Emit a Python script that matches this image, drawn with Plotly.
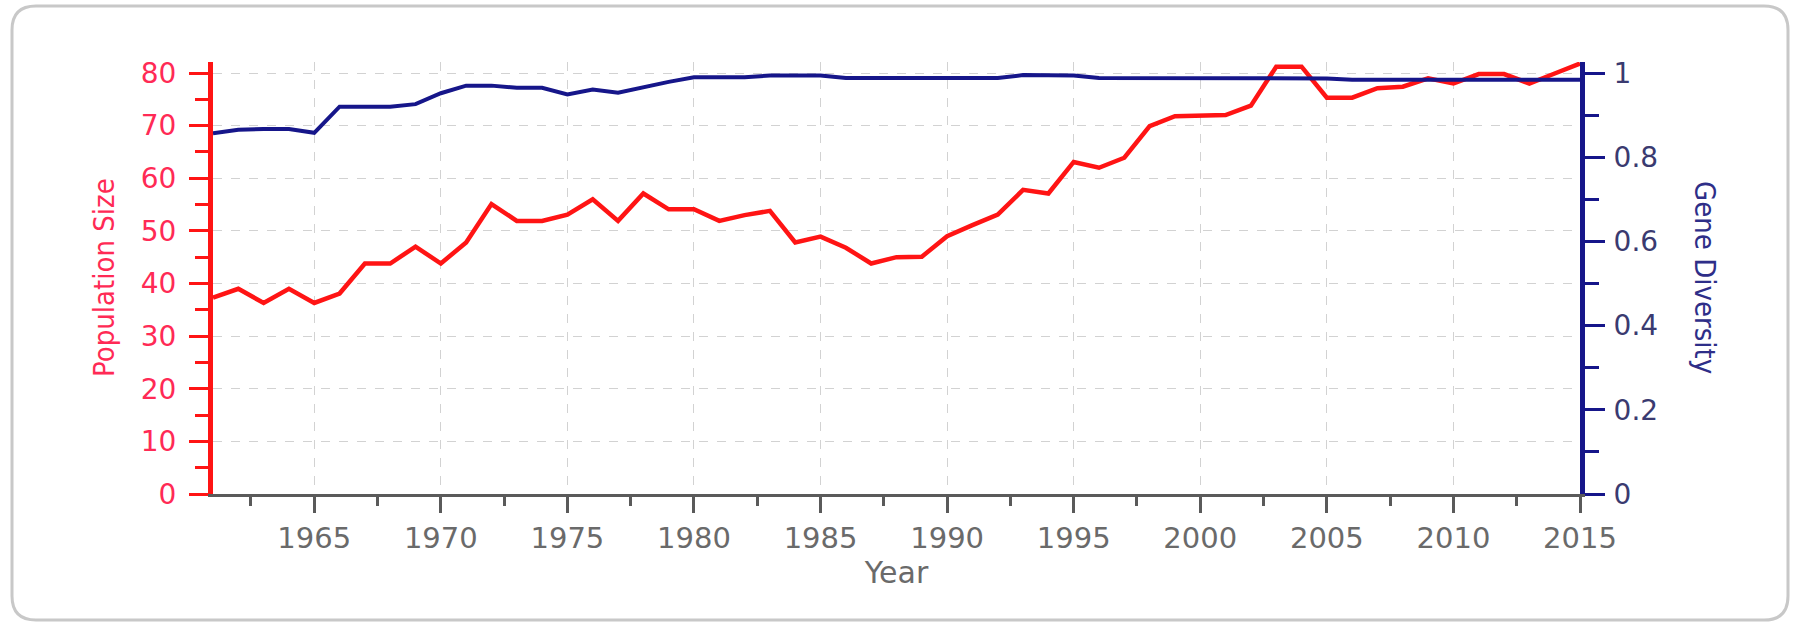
import plotly.graph_objects as go

years = list(range(1961, 2016))

population_size = [
    37.3, 39.0, 36.3, 39.0, 36.3, 38.1, 43.8, 43.8, 47.0, 43.8,
    47.8, 55.1, 51.9, 51.9, 53.1, 56.0, 51.9, 57.1, 54.1, 54.1,
    51.9, 53.0, 53.8, 47.8, 48.9, 46.8, 43.8, 45.0, 45.1, 49.0,
    51.1, 53.1, 57.8, 57.1, 63.1, 62.0, 63.9, 69.9, 71.8, 71.8,
    72.0, 73.8, 81.2, 81.2, 75.3, 75.3, 77.1, 77.4, 79.0, 78.0,
    79.8, 79.8, 78.0, 79.9, 81.8,
]

gene_diversity = [
    0.857, 0.865, 0.867, 0.867, 0.858, 0.920, 0.920, 0.920, 0.926, 0.952,
    0.970, 0.970, 0.965, 0.965, 0.949, 0.961, 0.953, 0.967, 0.979, 0.990,
    0.990, 0.990, 0.994, 0.995, 0.994, 0.988, 0.988, 0.988, 0.988, 0.988,
    0.988, 0.988, 0.995, 0.995, 0.994, 0.988, 0.988, 0.988, 0.988, 0.988,
    0.988, 0.988, 0.988, 0.988, 0.987, 0.984, 0.984, 0.984, 0.984, 0.984,
    0.984, 0.984, 0.984, 0.984, 0.984,
]

x_title = "Year"
left_title = "Population Size"
right_title = "Gene Diversity"

RED = "#ff1414"
RED_TXT = "#ff2a55"
NAVY = "#16168a"
NAVY_TXT = "#3a3a70"
GRAY_TXT = "#6a6a6a"
GRID = "#d2d2d2"

W, H = 1803, 626
L, R, B = 213, 1580, 494
Y80 = 73              # pixel row of value 80 / 1.0
TOP = 62              # top of plotting area (axis lines run a bit above 80)
unit = (B - Y80) / 80.0
left_max = (B - TOP) / unit
right_max = left_max / 80.0

fig = go.Figure()
fig.add_trace(go.Scatter(x=years, y=population_size, mode="lines",
                         line=dict(color=RED, width=4.5), name=left_title,
                         yaxis="y"))
fig.add_trace(go.Scatter(x=years, y=gene_diversity, mode="lines",
                         line=dict(color=NAVY, width=4), name=right_title,
                         yaxis="y2"))

tickfont = "DejaVu Sans, Verdana, sans-serif"
condfont = "DejaVu Sans Condensed, Liberation Sans Narrow, Roboto Condensed, Arial Narrow, sans-serif"

fig.update_layout(
    width=W, height=H,
    margin=dict(l=L, r=W - R, t=TOP, b=H - B, pad=0),
    paper_bgcolor="white", plot_bgcolor="white",
    showlegend=False,
    xaxis=dict(
        range=[1961, 2015], tick0=1965, dtick=5,
        showgrid=True, gridcolor=GRID, gridwidth=1, griddash="dash",
        zeroline=False,
        showline=True, linecolor="#5a5a5a", linewidth=3,
        ticks="outside", ticklen=16, tickwidth=3, tickcolor="#5a5a5a",
        ticklabelstandoff=0,
        tickfont=dict(family=tickfont, size=29, color=GRAY_TXT),
        minor=dict(dtick=2.5, tick0=1965, ticks="outside", ticklen=9,
                   tickwidth=3, tickcolor="#5a5a5a", showgrid=False),
        title=dict(text=x_title, font=dict(family=tickfont, size=30, color=GRAY_TXT),
                   standoff=6),
    ),
    yaxis=dict(
        range=[0, left_max], tick0=0, dtick=10,
        showgrid=True, gridcolor=GRID, gridwidth=1, griddash="dash",
        zeroline=False,
        showline=True, linecolor=RED, linewidth=5,
        ticks="outside", ticklen=19, tickwidth=3, tickcolor=RED,
        ticklabelstandoff=7,
        tickfont=dict(family=tickfont, size=28, color=RED_TXT),
        minor=dict(dtick=5, ticks="outside", ticklen=13, tickwidth=3,
                   tickcolor=RED, showgrid=False),
    ),
    yaxis2=dict(
        range=[0, right_max], tick0=0, dtick=0.2, overlaying="y", side="right",
        showgrid=False, zeroline=False,
        showline=True, linecolor=NAVY, linewidth=5,
        ticks="outside", ticklen=20, tickwidth=3, tickcolor=NAVY,
        ticklabelstandoff=3,
        tickfont=dict(family=tickfont, size=28, color=NAVY_TXT),
        minor=dict(dtick=0.1, ticks="outside", ticklen=14, tickwidth=3,
                   tickcolor=NAVY, showgrid=False),
    ),
)

pw, ph = R - L, B - TOP

def px(xp):
    return (xp - L) / pw

def py(yp):
    return (B - yp) / ph

fig.add_annotation(text=left_title, xref="paper", yref="paper",
                   x=px(104), y=py(278), showarrow=False, textangle=-90,
                   xanchor="center", yanchor="middle",
                   font=dict(family=condfont, size=29, color=RED_TXT))
fig.add_annotation(text=right_title, xref="paper", yref="paper",
                   x=px(1705), y=py(278), showarrow=False, textangle=90,
                   xanchor="center", yanchor="middle",
                   font=dict(family=condfont, size=29, color="#2e2e88"))

# rounded outer frame
x0, x1, y0, y1 = px(12), px(1788), py(620), py(6)
rx, ry = 24 / pw, 24 / ph
path = (f"M {x0+rx},{y1} L {x1-rx},{y1} Q {x1},{y1} {x1},{y1-ry} "
        f"L {x1},{y0+ry} Q {x1},{y0} {x1-rx},{y0} L {x0+rx},{y0} "
        f"Q {x0},{y0} {x0},{y0+ry} L {x0},{y1-ry} Q {x0},{y1} {x0+rx},{y1} Z")
fig.add_shape(type="path", path=path, xref="paper", yref="paper",
              line=dict(color="#c8c8c8", width=3), layer="below")

fig.write_html("out.html", config={"displayModeBar": False},
               post_script="document.body.style.margin='0';")
